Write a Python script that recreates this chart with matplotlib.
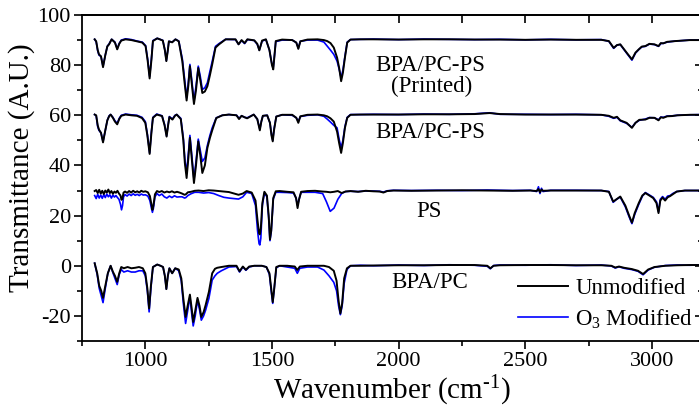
import matplotlib
matplotlib.use("Agg")
import matplotlib.pyplot as plt
from matplotlib.ticker import MultipleLocator

plt.rcParams['font.family'] = ['Liberation Serif', 'DejaVu Serif']
plt.rcParams['mathtext.fontset'] = 'custom'
plt.rcParams['mathtext.rm'] = 'Liberation Serif'
plt.rcParams['mathtext.it'] = 'Liberation Serif:italic'
plt.rcParams['axes.unicode_minus'] = False

# ---------------- BPA/PC film (offset 0) ----------------
pc_wn = [
    800, 810, 818, 826, 833, 842, 852, 863, 872, 880,
    889, 897, 905, 915, 930, 945, 960, 975, 990, 1000,
    1008, 1015, 1022, 1030, 1047, 1060, 1070, 1077, 1083, 1089,
    1095, 1106, 1118, 1132, 1142, 1150, 1159, 1167, 1176, 1183,
    1189, 1197, 1206, 1214, 1221, 1230, 1238, 1251, 1264, 1275,
    1284, 1300, 1330, 1360, 1372, 1385, 1397, 1410, 1430, 1460,
    1478, 1490, 1498, 1503, 1508, 1517, 1530, 1560, 1590, 1600,
    1610, 1640, 1680, 1705, 1725, 1744, 1755, 1763, 1770, 1777,
    1785, 1796, 1810, 1850, 1900, 2000, 2100, 2200, 2300, 2350,
    2362, 2375, 2400, 2500, 2600, 2700, 2800, 2840, 2855, 2870,
    2890, 2920, 2945, 2965, 2985, 3010, 3053, 3100, 3150, 3200,
]
pc_unmod = [
    1.0, -3.0, -8.0, -10.0, -12.8, -8.0, -3.0, 0.0, -2.4, -4.0,
    -6.4, -3.0, -0.5, -1.0, -0.5, -1.0, -0.8, -0.5, -1.0, -3.0,
    -9.0, -17.0, -8.0, -0.5, 0.5, 0.0, -0.5, -4.0, -9.3, -4.0,
    -1.0, -3.0, -1.0, -1.5, -5.0, -13.0, -20.4, -16.0, -11.5, -17.0,
    -22.4, -18.0, -12.8, -16.0, -20.4, -18.5, -15.7, -10.4, -3.0, -1.2,
    -0.8, -0.5, 0.0, 0.0, -2.2, -0.3, -1.6, -0.3, 0.0, 0.0,
    -0.5, -3.0, -10.0, -14.5, -10.0, -0.5, 0.0, 0.0, -0.3, -1.7,
    -0.3, 0.0, 0.0, 0.0, -0.5, -2.0, -6.0, -14.0, -19.0, -15.0,
    -5.0, -1.0, 0.0, 0.0, 0.1, 0.2, 0.2, 0.3, 0.3, 0.0,
    -1.0, 0.0, 0.2, 0.3, 0.3, 0.2, 0.2, 0.0, -0.7, -0.3,
    -0.8, -1.3, -2.0, -3.3, -1.5, -0.5, 0.0, 0.2, 0.3, 0.3,
]
pc_o3 = [
    1.0, -3.5, -9.0, -12.0, -14.7, -9.0, -3.0, 0.0, -2.8, -5.0,
    -7.5, -3.5, -1.5, -2.5, -2.0, -2.5, -2.5, -2.0, -2.0, -4.0,
    -10.0, -18.4, -9.0, -0.5, 0.5, 0.0, -0.5, -4.0, -9.3, -4.0,
    -1.0, -3.0, -1.0, -2.0, -6.0, -15.0, -23.0, -18.0, -12.4, -19.0,
    -24.0, -20.0, -13.7, -17.5, -21.7, -20.0, -17.7, -13.0, -5.7, -4.0,
    -3.0, -2.0, -0.5, -0.3, -2.5, -0.5, -1.8, -0.5, 0.0, 0.0,
    -0.5, -3.5, -11.0, -15.0, -10.0, -0.8, 0.0, -0.5, -1.0, -3.0,
    -1.0, -0.5, -0.5, -1.7, -4.0, -6.6, -10.0, -16.0, -19.5, -16.0,
    -7.0, -1.5, 0.0, 0.2, 0.0, 0.3, 0.1, 0.4, 0.2, -0.2,
    -1.2, 0.1, 0.3, 0.2, 0.4, 0.1, 0.3, -0.1, -0.9, -0.4,
    -1.0, -1.5, -2.2, -3.6, -1.7, -0.6, 0.1, 0.3, 0.2, 0.4,
]

# ---------------- PS film (offset 30) ----------------
ps_wn = [
    800, 806, 812, 818, 824, 830, 836, 842, 848, 854,
    860, 866, 872, 878, 884, 890, 896, 902, 906, 910,
    914, 920, 928, 936, 944, 952, 960, 968, 976, 984,
    992, 1000, 1010, 1018, 1024, 1028, 1032, 1038, 1046, 1055,
    1065, 1075, 1085, 1095, 1105, 1115, 1125, 1135, 1145, 1155,
    1160, 1168, 1180, 1195, 1210, 1230, 1250, 1270, 1290, 1310,
    1330, 1350, 1368, 1385, 1400, 1420, 1435, 1443, 1449, 1452,
    1456, 1462, 1470, 1480, 1487, 1492, 1497, 1505, 1515, 1530,
    1560, 1585, 1595, 1601, 1607, 1615, 1640, 1670, 1700, 1715,
    1730, 1745, 1760, 1775, 1790, 1810, 1840, 1870, 1900, 1925,
    1940, 1955, 1980, 2050, 2150, 2250, 2350, 2450, 2520, 2545,
    2552, 2558, 2564, 2570, 2600, 2700, 2800, 2830, 2847, 2860,
    2875, 2895, 2910, 2921, 2932, 2948, 2962, 2974, 2990, 3005,
    3018, 3026, 3033, 3042, 3052, 3062, 3072, 3082, 3098, 3130,
    3200,
]
ps_unmod = [
    29.8, 30.2, 29.0, 30.3, 28.8, 29.9, 28.6, 30.0, 29.2, 30.4,
    29.0, 29.8, 28.7, 29.6, 29.1, 29.9, 28.8, 28.0, 26.3, 27.0,
    29.2, 29.6, 29.1, 29.8, 29.2, 29.9, 29.3, 29.7, 29.2, 29.9,
    29.5, 29.7, 29.3, 27.8, 24.5, 22.3, 24.0, 28.5, 29.8, 29.4,
    29.8, 29.2, 29.6, 29.3, 29.7, 29.2, 29.5, 29.2, 28.8, 28.3,
    28.5, 29.3, 29.5, 29.9, 30.0, 29.8, 30.1, 30.0, 29.8, 29.6,
    29.4, 28.8, 28.3, 28.8, 29.8, 29.2, 26.0, 18.0, 13.0, 12.5,
    15.0, 25.0, 29.5, 28.0, 20.0, 10.5, 14.0, 27.0, 29.7, 29.8,
    29.5, 29.3, 27.0, 23.0, 26.5, 29.5, 29.8, 29.9, 29.6, 29.5,
    29.3, 29.5, 29.8, 29.0, 29.6, 29.8, 29.5, 29.9, 29.7, 29.6,
    29.2, 29.8, 30.0, 29.9, 30.0, 30.1, 30.0, 29.9, 30.0, 29.8,
    30.6, 29.3, 30.4, 29.9, 30.0, 30.0, 30.0, 29.5, 25.6, 26.5,
    27.6, 24.0, 20.0, 17.2, 21.0, 25.0, 28.0, 29.0, 28.0, 27.0,
    25.0, 21.0, 26.0, 27.2, 26.0, 27.3, 27.8, 28.5, 29.6, 30.0,
    30.0,
]
ps_o3 = [
    28.0, 26.8, 28.5, 27.0, 28.2, 26.9, 28.4, 27.2, 28.6, 27.5,
    28.3, 27.0, 28.2, 27.4, 28.0, 27.2, 26.5, 24.5, 22.3, 24.0,
    27.5, 28.4, 27.8, 28.6, 28.0, 28.7, 28.1, 28.5, 28.0, 28.6,
    28.2, 28.3, 27.8, 26.0, 23.0, 21.3, 23.0, 27.5, 28.8, 28.0,
    28.6, 27.5, 27.0, 27.8, 27.2, 27.9, 27.4, 27.5, 27.5, 27.0,
    27.2, 28.0, 28.7, 29.3, 29.3, 29.0, 29.2, 28.8, 28.0, 27.3,
    27.0, 26.8, 26.6, 27.5, 29.3, 28.8, 24.0, 14.0, 8.8, 8.3,
    11.0, 24.0, 29.0, 27.5, 19.0, 10.0, 13.5, 26.5, 29.3, 29.3,
    29.2, 29.0, 27.0, 24.0, 26.5, 29.3, 29.3, 29.3, 28.8, 25.5,
    21.7, 23.0, 26.5, 28.8, 29.6, 29.7, 29.6, 29.8, 29.8, 29.7,
    29.4, 29.9, 30.1, 30.0, 30.1, 30.0, 30.2, 30.0, 30.1, 29.6,
    31.5, 28.8, 30.9, 29.6, 30.1, 30.1, 30.0, 29.6, 25.3, 26.5,
    27.4, 23.5, 19.5, 16.8, 20.5, 24.5, 27.7, 29.2, 28.2, 27.3,
    25.5, 21.5, 26.5, 27.6, 26.5, 27.8, 28.0, 28.8, 29.6, 30.0,
    30.0,
]

# ---------------- BPA/PC-PS blend (offset 60) ----------------
blend_wn = [
    800, 806, 812, 817, 825, 833, 842, 850, 857, 863,
    872, 880, 889, 897, 905, 922, 945, 967, 987, 1000,
    1008, 1017, 1024, 1030, 1045, 1066, 1076, 1084, 1090, 1095,
    1107, 1117, 1124, 1140, 1150, 1156, 1163, 1170, 1176, 1184,
    1192, 1200, 1209, 1217, 1225, 1235, 1245, 1255, 1264, 1280,
    1304, 1330, 1360, 1370, 1380, 1392, 1402, 1428, 1442, 1452,
    1458, 1464, 1481, 1492, 1498, 1503, 1508, 1517, 1540, 1580,
    1596, 1604, 1612, 1640, 1680, 1705, 1718, 1731, 1744, 1757,
    1765, 1773, 1780, 1788, 1797, 1810, 1850, 1900, 2000, 2100,
    2200, 2300, 2359, 2400, 2500, 2600, 2700, 2800, 2830, 2849,
    2862, 2875, 2900, 2921, 2935, 2950, 2974, 2990, 3010, 3026,
    3035, 3045, 3060, 3080, 3100, 3150, 3200,
]
blend_unmod = [
    60.3, 60.0, 56.0, 54.3, 53.0, 49.2, 54.0, 58.0, 59.6, 60.3,
    59.0, 57.5, 56.4, 58.5, 59.8, 60.3, 60.0, 59.8, 58.9, 57.0,
    52.0, 44.6, 53.0, 59.0, 60.3, 59.7, 56.0, 51.5, 56.0, 59.3,
    58.3, 59.8, 60.3, 58.5, 50.0, 41.0, 35.0, 43.0, 51.0, 42.0,
    33.0, 40.0, 49.6, 44.0, 37.0, 40.0, 47.0, 51.0, 54.0, 58.9,
    60.0, 60.3, 60.0, 58.5, 59.8, 59.2, 58.8, 60.3, 58.5, 54.0,
    57.5, 59.8, 60.0, 57.0, 52.0, 49.6, 54.0, 59.5, 60.2, 60.2,
    59.0, 57.0, 59.6, 60.2, 60.3, 60.0, 59.6, 58.8, 57.5, 53.5,
    49.0, 45.0, 49.0, 55.0, 59.0, 60.2, 60.3, 60.3, 60.3, 60.4,
    60.4, 60.5, 60.9, 60.5, 60.3, 60.3, 60.3, 60.2, 59.8, 59.0,
    59.4, 58.0, 57.0, 55.0, 57.0, 58.2, 58.3, 59.0, 59.0, 58.0,
    59.2, 59.0, 59.6, 59.7, 60.0, 60.2, 60.2,
]
blend_o3 = [
    60.3, 59.8, 55.5, 54.0, 53.0, 49.5, 54.0, 58.0, 59.8, 60.3,
    59.2, 57.8, 56.8, 58.8, 60.0, 60.5, 60.2, 60.0, 59.2, 57.5,
    52.5, 45.0, 53.5, 59.2, 60.5, 59.8, 56.3, 51.8, 56.3, 59.5,
    58.5, 60.0, 60.3, 58.8, 51.0, 42.5, 37.0, 45.0, 52.0, 43.5,
    34.3, 41.5, 50.5, 46.0, 41.6, 43.0, 48.0, 52.0, 55.0, 59.0,
    60.0, 60.3, 60.0, 58.8, 59.8, 59.2, 59.0, 60.3, 58.5, 54.5,
    57.5, 59.8, 60.0, 57.0, 52.5, 50.0, 54.5, 59.5, 60.2, 60.0,
    59.0, 57.5, 59.5, 60.0, 60.2, 59.6, 58.5, 57.3, 56.0, 55.0,
    50.5, 47.0, 50.0, 55.5, 59.2, 60.3, 60.3, 60.4, 60.3, 60.5,
    60.4, 60.6, 61.0, 60.4, 60.4, 60.3, 60.4, 60.2, 59.6, 58.8,
    59.2, 57.8, 56.8, 55.2, 57.0, 58.0, 58.5, 59.1, 59.0, 58.2,
    59.3, 59.2, 59.7, 59.8, 60.0, 60.2, 60.3,
]

# ---------------- printed BPA/PC-PS (offset 90) ----------------
printed_wn = [
    800, 806, 812, 817, 825, 833, 842, 850, 857, 867,
    880, 889, 897, 905, 922, 945, 967, 988, 1001, 1009,
    1017, 1024, 1030, 1047, 1069, 1077, 1083, 1089, 1093, 1106,
    1119, 1132, 1146, 1155, 1163, 1170, 1176, 1184, 1192, 1200,
    1209, 1217, 1225, 1235, 1245, 1255, 1264, 1277, 1291, 1317,
    1356, 1368, 1380, 1392, 1403, 1430, 1442, 1450, 1461, 1476,
    1490, 1495, 1500, 1505, 1510, 1515, 1540, 1580, 1596, 1604,
    1612, 1640, 1680, 1705, 1718, 1731, 1744, 1757, 1765, 1773,
    1780, 1788, 1797, 1810, 1850, 1900, 2000, 2100, 2200, 2300,
    2400, 2500, 2600, 2700, 2800, 2830, 2849, 2862, 2875, 2900,
    2921, 2935, 2948, 2960, 2974, 2990, 3010, 3026, 3035, 3045,
    3060, 3092, 3150, 3200,
]
printed_unmod = [
    90.3, 89.5, 86.0, 84.3, 83.5, 79.2, 84.0, 87.5, 88.3, 90.3,
    89.0, 86.3, 88.5, 89.8, 90.3, 90.0, 89.5, 89.0, 87.6, 82.0,
    74.7, 82.0, 89.6, 90.7, 89.8, 86.0, 81.6, 86.0, 89.5, 89.1,
    90.3, 89.5, 81.6, 73.0, 65.9, 72.0, 79.6, 72.0, 64.5, 70.0,
    78.9, 74.0, 68.9, 69.5, 71.6, 76.0, 80.3, 87.0, 88.3, 90.3,
    90.3, 88.3, 90.0, 88.8, 90.3, 89.9, 88.5, 85.9, 89.8, 90.3,
    86.0, 83.0, 80.0, 78.3, 84.0, 89.6, 90.2, 90.0, 89.0, 86.5,
    89.5, 90.2, 90.3, 90.0, 89.6, 88.8, 87.0, 83.0, 79.0, 73.6,
    77.0, 83.0, 89.0, 90.2, 90.3, 90.3, 90.2, 90.3, 90.3, 90.2,
    90.2, 90.1, 90.2, 90.1, 90.1, 89.6, 86.9, 88.0, 88.3, 85.0,
    82.3, 85.0, 86.3, 87.4, 87.6, 88.5, 88.3, 87.6, 88.8, 88.7,
    89.3, 89.6, 90.0, 90.0,
]
printed_o3 = [
    90.3, 89.3, 85.8, 84.0, 83.5, 79.5, 84.0, 87.5, 88.5, 90.3,
    89.2, 86.5, 88.7, 90.0, 90.5, 90.2, 89.6, 89.2, 87.8, 82.5,
    75.5, 82.5, 89.8, 90.7, 89.9, 86.2, 81.8, 86.2, 89.5, 89.2,
    90.3, 89.6, 82.5, 74.5, 67.0, 73.5, 80.3, 73.5, 65.6, 71.5,
    79.6, 75.5, 70.3, 71.0, 73.0, 77.5, 81.5, 87.5, 88.6, 90.3,
    90.2, 88.3, 89.8, 88.6, 90.2, 89.8, 88.3, 86.0, 89.6, 90.2,
    86.0, 83.0, 80.3, 79.0, 84.0, 89.4, 90.0, 90.0, 89.0, 86.8,
    89.5, 90.0, 90.0, 89.2, 87.6, 86.0, 84.3, 81.6, 78.5, 75.0,
    78.0, 83.5, 89.2, 90.2, 90.3, 90.4, 90.2, 90.4, 90.3, 90.2,
    90.3, 90.1, 90.3, 90.1, 90.2, 89.5, 86.7, 88.0, 88.2, 84.8,
    82.0, 84.8, 86.2, 87.3, 87.5, 88.4, 88.2, 87.5, 88.6, 88.7,
    89.2, 89.6, 90.0, 90.0,
]

series_labels = ['Unmodified', 'O$_3$ Modified']

BLUE = '#0000ff'
FS_TICK = 16
FS_NAME = 16.5
FS_LABEL = 21

fig = plt.figure(figsize=(6.99, 4.17), dpi=100)
# right frame edge sits just past the canvas edge
ax = fig.add_axes([82 / 699, 76 / 417, 620.6 / 699, 326 / 417])

samples = [
    (pc_wn, pc_unmod, pc_o3),
    (ps_wn, ps_unmod, ps_o3),
    (blend_wn, blend_unmod, blend_o3),
    (printed_wn, printed_unmod, printed_o3),
]
h_unmod = h_o3 = None
for wn, unmod, o3 in samples:
    h_o3, = ax.plot(wn, o3, color=BLUE, lw=1.2)
    h_unmod, = ax.plot(wn, unmod, color='black', lw=1.4)

ax.set_xlim(750, 3200)
ax.set_ylim(-30, 100)
ax.xaxis.set_major_locator(MultipleLocator(500))
ax.xaxis.set_minor_locator(MultipleLocator(250))
ax.yaxis.set_major_locator(MultipleLocator(20))
ax.yaxis.set_minor_locator(MultipleLocator(10))
ax.tick_params(which='major', direction='out', length=6, width=1.2,
               labelsize=FS_TICK, pad=2)
ax.tick_params(which='minor', direction='out', length=3.5, width=1.2)
for sp in ax.spines.values():
    sp.set_linewidth(1.3)

# inward ticks on the top and right frame edges
top = ax.secondary_xaxis('top')
top.set_xticks(list(range(1000, 3201, 250)))
top.tick_params(direction='in', length=6, width=1.2, labeltop=False)
top.spines['top'].set_linewidth(1.3)
right = ax.secondary_yaxis('right')
right.yaxis.set_major_locator(MultipleLocator(20))
right.yaxis.set_minor_locator(MultipleLocator(10))
right.tick_params(which='major', direction='in', length=6, width=1.2, labelright=False)
right.tick_params(which='minor', direction='in', length=3.5, width=1.2)
right.spines['right'].set_linewidth(1.3)

ax.set_xlabel(r'Wavenumber (cm$^{\text{-1}}$)', fontsize=FS_LABEL, labelpad=2)
ax.set_ylabel('Transmittance (A.U.)', fontsize=FS_LABEL)
ax.yaxis.set_label_coords(-0.076, 0.532)

# sample names beside each spectrum
ax.text(2124, 77.6, 'BPA/PC-PS', ha='center', va='baseline', fontsize=FS_NAME)
ax.text(2130, 69.2, '(Printed)', ha='center', va='baseline', fontsize=FS_NAME)
ax.text(2124, 51.0, 'BPA/PC-PS', ha='center', va='baseline', fontsize=FS_NAME)
ax.text(2118, 19.6, 'PS', ha='center', va='baseline', fontsize=FS_NAME)
ax.text(2124, -9.0, 'BPA/PC', ha='center', va='baseline', fontsize=FS_NAME)

ax.legend([h_unmod, h_o3], series_labels, frameon=False, fontsize=FS_NAME,
          loc='upper left', bbox_to_anchor=(0.7026, 0.193),
          borderaxespad=0, borderpad=0, handlelength=2.2,
          handletextpad=0.3, labelspacing=0.36)

fig.savefig('out.png', dpi=100)
